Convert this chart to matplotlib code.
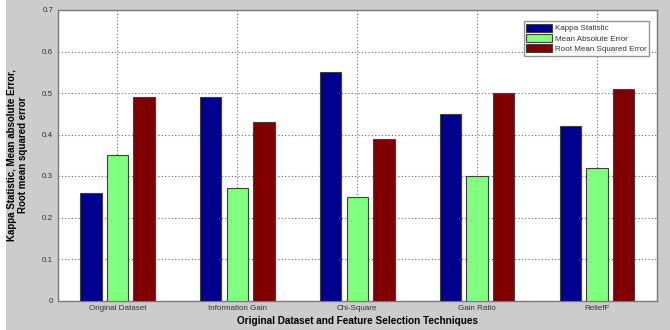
import matplotlib.pyplot as plt
import numpy as np
from matplotlib.patches import Rectangle

techniques = ['Original Dataset', 'Information Gain', 'Chi-Square', 'Gain Ratio', 'ReliefF']
kappa = [0.26, 0.49, 0.55, 0.45, 0.42]
mae = [0.35, 0.27, 0.25, 0.30, 0.32]
rmse = [0.49, 0.43, 0.39, 0.50, 0.51]
series_names = ['Kappa Statistic', 'Mean Absolute Error', 'Root Mean Squared Error']
y_ticks = [0, 0.1, 0.2, 0.3, 0.4, 0.5, 0.6, 0.7]

plt.rcParams['font.family'] = ['Liberation Sans Narrow', 'Liberation Sans', 'DejaVu Sans']

fig = plt.figure(figsize=(6.7, 3.3), dpi=100, facecolor='#cccccc')
# thin white strip on the left edge
fig.patches.append(Rectangle((0, 0), 6 / 670, 1, transform=fig.transFigure,
                             facecolor='white', edgecolor='none', zorder=0))

ax = fig.add_axes([57.5 / 670, 29.5 / 330, 599.5 / 670, 290.5 / 330])

x = np.arange(1, len(techniques) + 1)
step = 0.222
width = 0.178
colors = ['#00008f', '#80ff80', '#800000']
for i, (vals, name, c) in enumerate(zip([kappa, mae, rmse], series_names, colors)):
    ax.bar(x + (i - 1) * step, vals, width, color=c, edgecolor='#404040',
           linewidth=0.8, label=name, zorder=3)

ax.set_xlim(0.5, 5.5)
ax.set_ylim(0, 0.7)
ax.set_xticks(x)
ax.set_xticklabels(techniques, fontsize=5.8, color='#333333')
ax.set_yticks(y_ticks)
ax.set_yticklabels([f'{v:g}' for v in y_ticks], fontsize=5.8, color='#333333')
ax.tick_params(length=0, pad=3)
ax.grid(True, linestyle=(0, (1, 2)), color='#666666', linewidth=0.8, zorder=1)
for s in ax.spines.values():
    s.set_color('#7a7a7a')
    s.set_linewidth(1.0)

ax.set_xlabel('Original Dataset and Feature Selection Techniques', fontsize=7.2,
              fontweight='bold', family=['Liberation Sans', 'DejaVu Sans'], labelpad=3)
ax.set_ylabel('Kappa Statistic, Mean absolute Error,\nRoot mean squared error', fontsize=7.0,
              fontweight='bold', family=['Liberation Sans', 'DejaVu Sans'], labelpad=10)

leg = ax.legend(loc='upper right', bbox_to_anchor=(0.987, 0.962), fontsize=5.8,
                frameon=True, fancybox=False, handlelength=3.2, handleheight=1.1,
                handletextpad=0.3, borderpad=0.35, labelspacing=0.2, borderaxespad=0)
leg.get_frame().set_edgecolor('#7a7a7a')
leg.get_frame().set_linewidth(1.0)
for t in leg.get_texts():
    t.set_color('#333333')

fig.savefig('out.png', dpi=100, facecolor=fig.get_facecolor())
